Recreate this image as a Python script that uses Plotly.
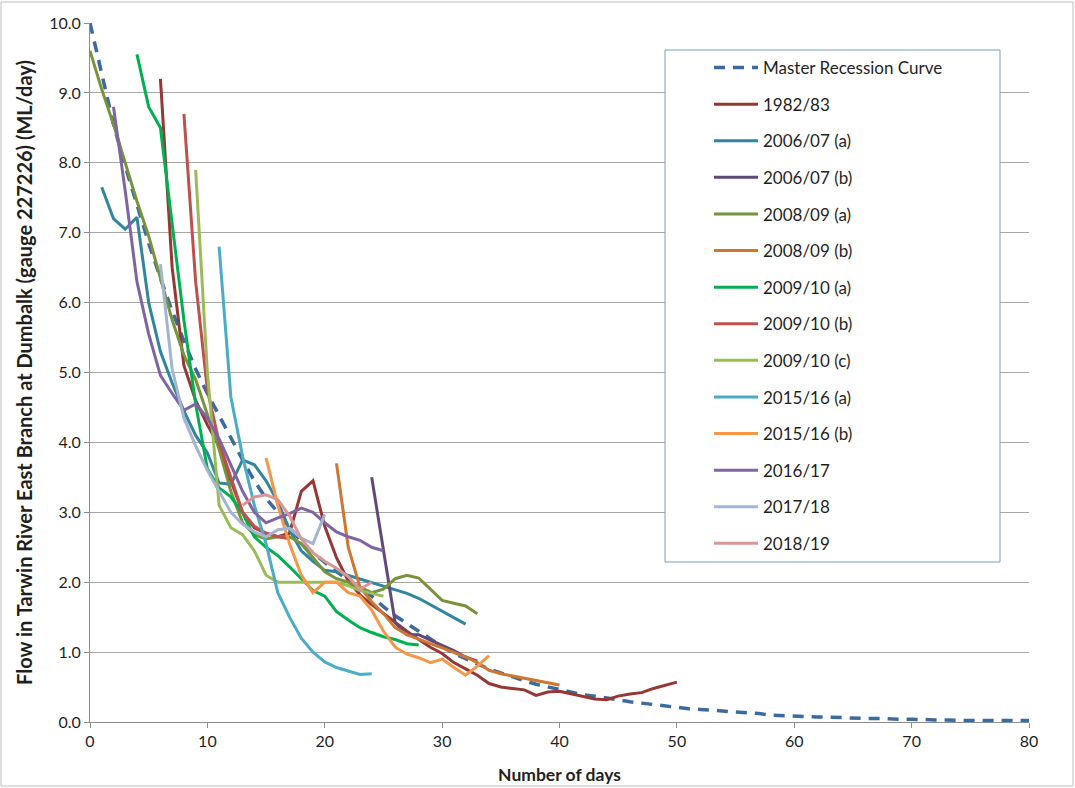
import plotly.graph_objects as go

# ---------------- data ----------------
master_start = 0
master_vals = [10.0, 9.25, 8.55, 7.95, 7.4, 6.85, 6.35, 5.88, 5.45, 5.05,
               4.7, 4.38, 4.05, 3.75, 3.45, 3.2, 3.0, 2.78, 2.58, 2.42,
               2.28, 2.15, 2.03, 1.92, 1.8, 1.65, 1.52, 1.41, 1.3, 1.18,
               1.08, 0.98, 0.9, 0.83, 0.76, 0.7, 0.64, 0.59, 0.54, 0.5,
               0.46, 0.42, 0.39, 0.37, 0.34, 0.31, 0.29, 0.27, 0.25, 0.22,
               0.2, 0.19, 0.18, 0.17, 0.16, 0.15, 0.13, 0.12, 0.1, 0.09,
               0.09, 0.08, 0.07, 0.07, 0.06, 0.06, 0.05, 0.05, 0.04, 0.04,
               0.04, 0.03, 0.03, 0.03, 0.02, 0.02, 0.02, 0.02, 0.02, 0.02, 0.02]

s1982_start = 6
s1982_vals = [9.2, 6.5, 5.1, 4.6, 4.25, 3.95, 3.45, 3.0, 2.78, 2.7,
              2.65, 2.7, 3.3, 3.45, 2.8, 2.35, 2.02, 1.82, 1.68, 1.55,
              1.42, 1.3, 1.18, 1.07, 0.98, 0.85, 0.76, 0.67, 0.55, 0.5,
              0.48, 0.46, 0.38, 0.43, 0.44, 0.4, 0.37, 0.33, 0.32, 0.37,
              0.4, 0.42, 0.48, 0.53, 0.57]

s2006a_start = 1
s2006a_vals = [7.65, 7.2, 7.05, 7.22, 6.0, 5.3, 4.85, 4.45, 4.1, 3.85,
               3.42, 3.4, 3.75, 3.68, 3.45, 3.15, 2.75, 2.45, 2.3, 2.17,
               2.15, 2.1, 2.05, 2.0, 1.95, 1.9, 1.84, 1.77, 1.68, 1.58,
               1.49, 1.4]

s2006b_start = 24
s2006b_vals = [3.5, 2.45, 1.42, 1.25, 1.25, 1.17, 1.1, 1.02, 0.93, 0.87]

s2008a_start = 0
s2008a_vals = [9.6, 9.05, 8.55, 8.0, 7.45, 6.95, 6.35, 5.75, 5.25, 4.9,
               4.4, 3.9, 3.3, 2.85, 2.68, 2.62, 2.65, 2.65, 2.55, 2.35,
               2.15, 2.05, 2.0, 1.93, 1.85, 1.9, 2.05, 2.1, 2.06, 1.9,
               1.74, 1.7, 1.66, 1.55]

s2008b_start = 21
s2008b_vals = [3.7, 2.5, 1.93, 1.72, 1.55, 1.35, 1.25, 1.18, 1.12, 1.06,
               1.0, 0.93, 0.85, 0.74, 0.69, 0.66, 0.63, 0.6, 0.56, 0.53]

s2009a_start = 4
s2009a_vals = [9.55, 8.8, 8.5, 7.1, 5.75, 4.55, 3.62, 3.35, 3.22, 2.99,
               2.65, 2.5, 2.38, 2.22, 2.05, 1.88, 1.8, 1.58, 1.46, 1.35,
               1.28, 1.22, 1.18, 1.12, 1.1]

s2009b_start = 8
s2009b_vals = [8.7, 6.3, 4.75, 4.0, 3.5, 3.0, 2.8, 2.7, 2.65, 2.62]

s2009c_start = 9
s2009c_vals = [7.9, 5.0, 3.1, 2.78, 2.68, 2.45, 2.1, 2.0, 2.0, 2.0,
               2.0, 2.0, 2.0, 1.95, 1.88, 1.84, 1.8]

s2015a_start = 11
s2015a_vals = [6.8, 4.65, 3.8, 3.1, 2.55, 1.85, 1.5, 1.2, 1.0, 0.86,
               0.78, 0.73, 0.68, 0.69]

s2015b_start = 15
s2015b_vals = [3.78, 3.1, 2.55, 2.1, 1.85, 2.0, 2.0, 1.85, 1.8, 1.6,
               1.3, 1.07, 0.97, 0.92, 0.85, 0.9, 0.78, 0.67, 0.8, 0.95]

s2016_start = 2
s2016_vals = [8.8, 7.6, 6.3, 5.55, 4.96, 4.7, 4.46, 4.55, 4.35, 4.05,
              3.68, 3.3, 3.0, 2.85, 2.92, 2.98, 3.06, 3.0, 2.85, 2.72,
              2.65, 2.6, 2.5, 2.45]

s2017_start = 6
s2017_vals = [6.55, 5.05, 4.35, 3.95, 3.6, 3.3, 3.0, 2.83, 2.72, 2.65,
              2.75, 2.77, 2.63, 2.55, 2.97]

s2018_start = 13
s2018_vals = [3.1, 3.22, 3.25, 3.18, 2.95, 2.62, 2.42, 2.3, 2.2, 2.08,
              1.9, 2.0]

series_names = ["1982/83", "2006/07 (a)", "2006/07 (b)", "2008/09 (a)",
                "2008/09 (b)", "2009/10 (a)", "2009/10 (b)", "2009/10 (c)",
                "2015/16 (a)", "2015/16 (b)", "2016/17", "2017/18", "2018/19"]
series_starts = [s1982_start, s2006a_start, s2006b_start, s2008a_start,
                 s2008b_start, s2009a_start, s2009b_start, s2009c_start,
                 s2015a_start, s2015b_start, s2016_start, s2017_start, s2018_start]
series_values = [s1982_vals, s2006a_vals, s2006b_vals, s2008a_vals,
                 s2008b_vals, s2009a_vals, s2009b_vals, s2009c_vals,
                 s2015a_vals, s2015b_vals, s2016_vals, s2017_vals, s2018_vals]
series_colors = ["#953735", "#31859C", "#5F497A", "#77933C",
                 "#CD7733", "#00B050", "#C0504D", "#9BBB59",
                 "#4BACC6", "#F79646", "#8064A2", "#A3B5D1", "#D99694"]

x_ticks = [0, 10, 20, 30, 40, 50, 60, 70, 80]
y_ticks = [0, 1, 2, 3, 4, 5, 6, 7, 8, 9, 10]

FONT = "Lato"
TXT = "#1F1F1F"

fig = go.Figure()

fig.add_trace(go.Scatter(
    x=list(range(master_start, master_start + len(master_vals))),
    y=master_vals, mode="lines", name="Master Recession Curve",
    legendgroup="m",
    line=dict(color="#3B6AA0", width=3.5, dash="11px,8px")))

for name, st, vals, col in zip(series_names, series_starts, series_values, series_colors):
    fig.add_trace(go.Scatter(
        x=list(range(st, st + len(vals))), y=vals, mode="lines", name=name,
        legendgroup=name,
        line=dict(color=col, width=3)))

W, H = 1075, 788
L, R, T, B = 90, 46, 23, 66
pw = W - L - R
ph = H - T - B

def px_x(p):
    return (p - L) / pw

def px_y(p):
    return (H - B - p) / ph

fig.update_layout(
    width=W, height=H,
    margin=dict(l=L, r=R, t=T, b=B, autoexpand=False),
    paper_bgcolor="white", plot_bgcolor="white",
    font=dict(family=FONT, size=16, color=TXT),
    showlegend=True,
    legend=dict(
        x=px_x(709), y=px_y(50), xanchor="left", yanchor="top",
        bgcolor="rgba(0,0,0,0)", borderwidth=0,
        font=dict(family=FONT, size=17, color=TXT),
        tracegroupgap=11.5, itemwidth=44,
    ),
    xaxis=dict(
        range=[0, 80], tickvals=x_ticks, ticktext=[str(v) for v in x_ticks],
        showgrid=False, zeroline=False,
        showline=True, linecolor="#8C8C8C", linewidth=1,
        ticks="outside", ticklen=5, tickcolor="#8C8C8C",
        tickfont=dict(family=FONT, size=16, color=TXT),
        title=dict(text="<b>Number of days</b>", standoff=19,
                   font=dict(family=FONT, size=17.5, color=TXT)),
    ),
    yaxis=dict(
        range=[0, 10], tickvals=y_ticks, ticktext=[f"{v:.1f}" for v in y_ticks],
        showgrid=True, gridcolor="#A6A6A6", gridwidth=1, zeroline=False,
        showline=True, linecolor="#8C8C8C", linewidth=1,
        ticks="outside", ticklen=5, tickcolor="#8C8C8C",
        tickfont=dict(family=FONT, size=16, color=TXT),
        title=dict(text="<b>Flow in Tarwin River East Branch at Dumbalk (gauge 227226) (ML/day)</b>",
                   standoff=11,
                   font=dict(family=FONT, size=20, color=TXT)),
    ),
    shapes=[
        # legend box
        dict(type="rect", xref="paper", yref="paper",
             x0=px_x(665), x1=px_x(1000), y0=px_y(562), y1=px_y(50),
             line=dict(color="#7F9DB9", width=1), fillcolor="white", layer="above"),
        # chart outer border
        dict(type="rect", xref="paper", yref="paper",
             x0=px_x(1), x1=px_x(1073), y0=px_y(786), y1=px_y(2),
             line=dict(color="#BFBFBF", width=1), layer="below"),
    ],
)

fig.write_html(
    "out.html",
    config={"displayModeBar": False},
    post_script="document.body.style.margin='0px';document.body.style.overflow='hidden';",
)
